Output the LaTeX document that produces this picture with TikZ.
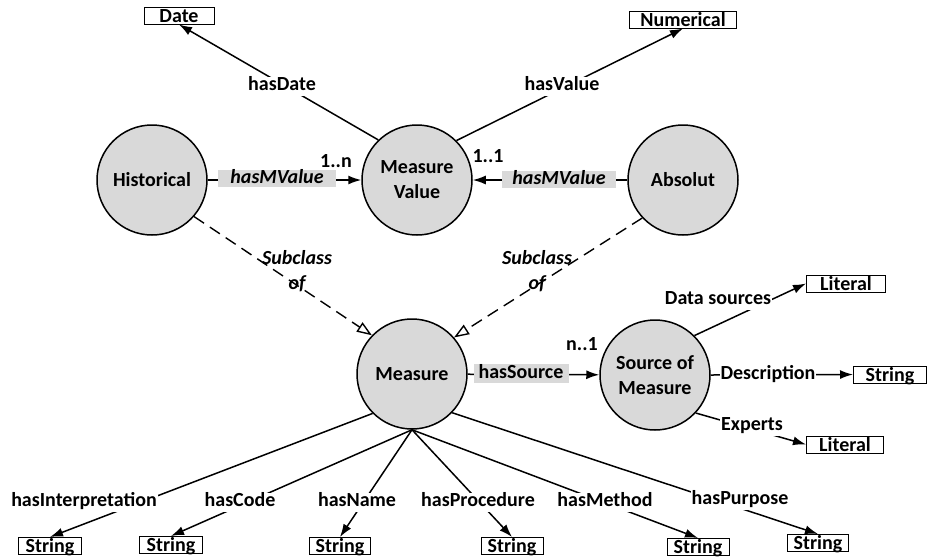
\documentclass[tikz,border=0pt]{standalone}
\usepackage{fontspec}
\setmainfont{Carlito}
\usetikzlibrary{arrows.meta}
\definecolor{circfill}{HTML}{D9D9D9}
\definecolor{hlgray}{HTML}{D9D9D9}

\begin{document}
\begin{tikzpicture}[x=1pt,y=-1pt,
  every node/.style={font=\fontsize{20}{25}\selectfont\bfseries},
  cls/.style={circle, draw, line width=1.5pt, fill=circfill, minimum size=110pt, inner sep=0pt, align=center},
  lit/.style={draw, line width=1pt, fill=white, inner xsep=0pt, inner ysep=0pt, text height=15pt, text depth=2pt},
  lbl/.style={fill=white, inner sep=1pt, text height=13pt, text depth=4pt},
  tag/.style={inner sep=0pt, text height=13pt, text depth=4pt},
  hl/.style={fill=hlgray, inner xsep=0pt, inner ysep=0pt, text height=13pt, text depth=4pt},
  rel/.style={line width=1.5pt, -{Latex[length=13pt,width=9pt]}},
  sub/.style={line width=1.4pt, dash pattern=on 12pt off 7pt, -{Triangle[open,length=15pt,width=11pt]}}
]
\useasboundingbox (0,0) rectangle (934,558);

% classes
\node[cls] (hist) at (152,180) {Historical};
\node[cls] (mv)   at (417,180) {Measure\\Value};
\node[cls] (abs)  at (683,180) {Absolut};
\node[cls] (meas) at (412,374) {Measure};
\node[cls] (src)  at (655,375) {Source of\\Measure};

% datatype boxes
\node[lit, minimum width=70pt]  (date) at (179,15.5)  {Date};
\node[lit, minimum width=107pt] (num)  at (683,19.5)  {Numerical};
\node[lit, minimum width=79pt]  (lit1) at (846,283.5) {Literal};
\node[lit, minimum width=73pt]  (strd) at (890,374.5) {String};
\node[lit, minimum width=77pt]  (lit2) at (845,444.5) {Literal};
\node[lit, minimum width=63pt]  (s1) at (50,546)  {String};
\node[lit, minimum width=63pt]  (s2) at (171,545) {String};
\node[lit, minimum width=61pt]  (s3) at (340,546) {String};
\node[lit, minimum width=62pt]  (s4) at (512,546) {String};
\node[lit, minimum width=62pt]  (s5) at (698,547) {String};
\node[lit, minimum width=61pt]  (s6) at (818,543) {String};

% properties of Measure Value
\draw[rel] (mv.134) -- (date.south);
\draw[rel] (mv.45) -- (num.south);
\draw[rel] (hist) -- (mv);
\draw[rel] (abs) -- (mv);

% subclass relations
\draw[sub] (hist.-41) -- (meas.136);
\draw[sub] (abs.223.5) -- (meas.41);

% Measure and its source
\draw[rel] (meas) -- (src);
\draw[rel] (src.45) -- (lit1.west);
\draw[rel] (src.east) -- (strd.west);
\draw[rel] (src.-43) -- (lit2.west);

% properties of Measure
\draw[rel] (meas.225) -- (s1.north);
\draw[rel] (meas.south) -- (s2.north);
\draw[rel] (meas.south) -- (s3.north);
\draw[rel] (meas.south) -- (s4.north);
\draw[rel] (meas.south) -- (s5.north);
\draw[rel] (meas.-44) -- (s6.north);

% edge labels
\node[lbl] (lhd) at (282,86) {hasDate};
\node[lbl] (lhv) at (562,86) {hasValue};
\node[hl, minimum width=118pt] (lmv1) at (277,178.5) {\itshape hasMValue};
\node[hl, minimum width=114pt] (lmv2) at (559,179.5) {\itshape hasMValue};
\node[tag] (c1) at (336,163) {1..n};
\node[tag] (c2) at (488,158) {1..1};
\node[tag, align=center] (sc1) at (297,284.5) {\itshape Subclass\\\itshape of};
\node[tag, align=center] (sc2) at (537,284.5) {\itshape Subclass\\\itshape of};
\node[hl, minimum width=95pt, minimum height=19pt] (lsrc) at (521,373.5) {hasSource};
\node[tag] (c3) at (582,346) {n..1};
\node[lbl] (lds) at (718,300) {Data sources};
\node[lbl] (lde) at (768,375) {Description};
\node[lbl] (lex) at (752,426) {Experts};
\node[lbl] (l1) at (84,502)  {hasInterpretation};
\node[lbl] (l2) at (240,502) {hasCode};
\node[lbl] (l3) at (357,502) {hasName};
\node[lbl] (l4) at (478,502) {hasProcedure};
\node[lbl] (l5) at (605,502) {hasMethod};
\node[lbl] (l6) at (740,500) {hasPurpose};
\end{tikzpicture}
\end{document}
